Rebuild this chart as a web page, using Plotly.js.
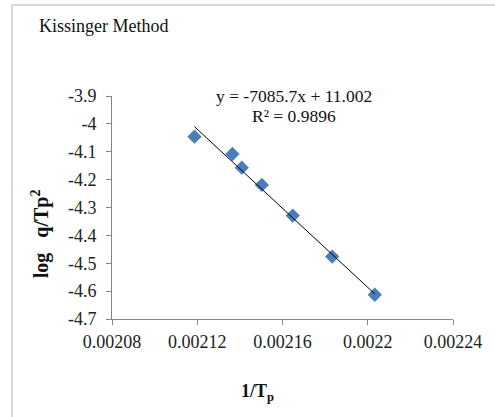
<!DOCTYPE html>
<html>
<head>
<meta charset="utf-8">
<script src="https://cdn.plot.ly/plotly-3.0.1.min.js"></script>
<style>
html,body{margin:0;padding:0;background:#fff;}
#chart{position:absolute;left:0;top:0;width:495px;height:417px;}
#frame{position:absolute;left:11px;top:4px;width:500px;height:420px;border-left:2px solid #d9d9d9;border-top:2px solid #d9d9d9;pointer-events:none;}
</style>
</head>
<body>
<div id="chart"></div>
<div id="frame"></div>
<script>
// Data
const invTp = [0.0021187, 0.0021365, 0.0021409, 0.0021503, 0.0021648, 0.0021833, 0.0022033];
const logQTp2 = [-4.046, -4.108, -4.157, -4.219, -4.329, -4.476, -4.613];
const trendX = [0.0021187, 0.0022033];
const trendY = [-4.010, -4.610];
const yTickVals = [-3.9, -4.0, -4.1, -4.2, -4.3, -4.4, -4.5, -4.6, -4.7];
const yTickText = ["-3.9", "-4", "-4.1", "-4.2", "-4.3", "-4.4", "-4.5", "-4.6", "-4.7"];
const xTickVals = [0.00208, 0.00212, 0.00216, 0.0022, 0.00224];
const xTickText = ["0.00208", "0.00212", "0.00216", "0.0022", "0.00224"];
const chartTitle = "Kissinger Method";
const eqText = "y = -7085.7x + 11.002";
const r2Text = "R² = 0.9896";

const serif = "Liberation Serif";

const traces = [
  {
    x: invTp, y: logQTp2, type: "scatter", mode: "markers",
    marker: {symbol: "diamond", size: 11, color: "#4a7ebb"},
    hoverinfo: "skip"
  },
  {
    x: trendX, y: trendY, type: "scatter", mode: "lines",
    line: {color: "#000", width: 1},
    hoverinfo: "skip"
  }
];

const axisCommon = {
  showgrid: false, zeroline: false, showline: true,
  linecolor: "#868686", linewidth: 1,
  ticks: "outside", ticklen: 5, tickcolor: "#868686", tickwidth: 1,
  tickfont: {family: serif, size: 18, color: "#222"},
  tickmode: "array"
};

const layout = {
  width: 495, height: 417,
  margin: {l: 112, r: 42, t: 96, b: 98},
  paper_bgcolor: "rgba(0,0,0,0)", plot_bgcolor: "rgba(0,0,0,0)",
  showlegend: false,
  font: {family: serif},
  title: {
    text: chartTitle, font: {family: serif, size: 18, color: "#111"},
    xref: "container", yref: "container", x: 39/495, xanchor: "left",
    y: 1 - 26/417, yanchor: "middle"
  },
  xaxis: Object.assign({}, axisCommon, {
    range: [0.00208, 0.00224], tickvals: xTickVals, ticktext: xTickText,
    ticklabelstandoff: 1
  }),
  yaxis: Object.assign({}, axisCommon, {
    range: [-4.7, -3.9], tickvals: yTickVals, ticktext: yTickText,
    ticklabelstandoff: 6
  }),
  annotations: [
    {text: eqText, xref: "paper", yref: "paper", x: 0.534, y: 1.0,
     xanchor: "center", yanchor: "middle", showarrow: false,
     font: {family: serif, size: 17.5, color: "#111"}},
    {text: r2Text, xref: "paper", yref: "paper", x: 0.534, y: 0.912,
     xanchor: "center", yanchor: "middle", showarrow: false,
     font: {family: serif, size: 17.5, color: "#111"}},
    {text: "<b>log&nbsp;&nbsp;&nbsp;q/Tp<sup>2</sup></b>", xref: "paper", yref: "paper",
     x: -0.21, y: 0.382, xanchor: "center", yanchor: "middle", textangle: -90,
     showarrow: false, font: {family: serif, size: 20, color: "#111"}},
    {text: "<b>1/T<sub>p</sub></b>", xref: "paper", yref: "paper",
     x: 0.428, y: -0.33, xanchor: "center", yanchor: "middle",
     showarrow: false, font: {family: serif, size: 18, color: "#111"}}
  ]
};

Plotly.newPlot("chart", traces, layout, {staticPlot: true, displayModeBar: false});
</script>
</body>
</html>
